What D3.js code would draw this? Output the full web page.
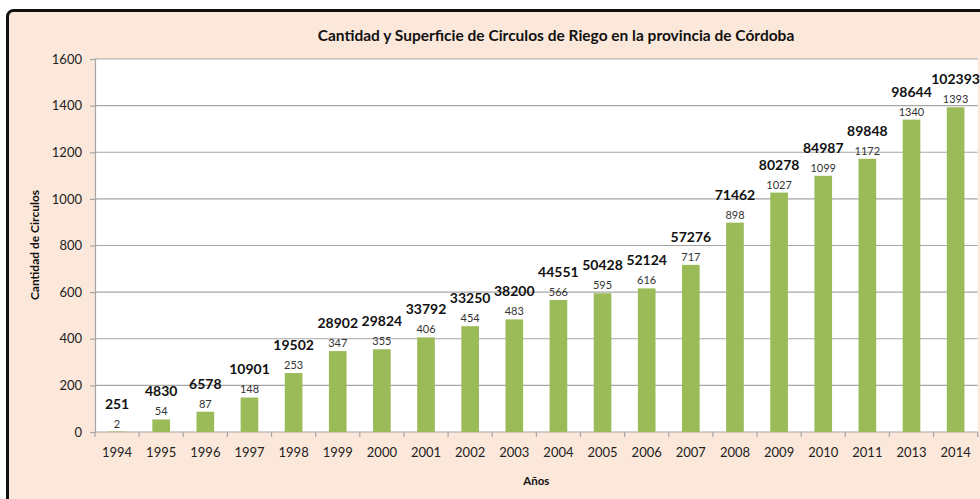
<!DOCTYPE html>
<html>
<head>
<meta charset="utf-8">
<script src="https://cdn.jsdelivr.net/npm/d3@7"></script>
<style>
  body { margin: 0; background: #fff; }
  svg { display: block; font-family: Lato, 'Open Sans', sans-serif; }
</style>
</head>
<body>
<svg id="chart" width="980" height="499"></svg>
<script>
// data
const years = ['1994','1995','1996','1997','1998','1999','2000','2001','2002','2003','2004',
               '2005','2006','2007','2008','2009','2010','2011','2013','2014']
const circulos = [2, 54, 87, 148, 253, 347, 355, 406, 454, 483, 566, 595, 616, 717, 898, 1027, 1099, 1172, 1340, 1393]
const superficie = [251, 4830, 6578, 10901, 19502, 28902, 29824, 33792, 33250, 38200, 44551,
                    50428, 52124, 57276, 71462, 80278, 84987, 89848, 98644, 102393]
const yTicks = [0, 200, 400, 600, 800, 1000, 1200, 1400, 1600]

const width = 980
const height = 499
const svg = d3.select('#chart')

const plot = {left: 95, right: 977.7, top: 59, bottom: 432}

// chart area (peach, black border, cut by the window)
svg.append('rect')
   .attr('x', 7.5)
   .attr('y', 10.5)
   .attr('width', width + 20)
   .attr('height', height + 20)
   .attr('rx', 6)
   .style('fill', '#fce8da')
   .style('stroke', '#111')
   .style('stroke-width', 3)

svg.append('rect')
   .attr('x', plot.left)
   .attr('y', plot.top)
   .attr('width', plot.right - plot.left)
   .attr('height', plot.bottom - plot.top)
   .style('fill', '#fff')

let xScale = d3.scaleBand()
               .domain(years)
               .range([plot.left, plot.right])
               .paddingInner(0.6)
               .paddingOuter(0.3)

let yScale = d3.scaleLinear()
               .domain([0, 1600])
               .range([plot.bottom, plot.top])

// gridlines
svg.append('g')
   .selectAll('line')
   .data(yTicks.filter(d => d > 0))
   .join('line')
   .attr('x1', plot.left)
   .attr('x2', plot.right)
   .attr('y1', d => yScale(d))
   .attr('y2', d => yScale(d))
   .style('stroke', '#a6a6a6')
   .style('stroke-width', 1.2)

// y axis
let yAxis = svg.append('g')
               .attr('transform', `translate(${plot.left},0)`)
               .call(d3.axisLeft(yScale).tickValues(yTicks).tickFormat(d3.format('d')).tickSize(5).tickPadding(8))
yAxis.select('.domain').style('stroke', '#a6a6a6').style('stroke-width', 1.2)
yAxis.selectAll('.tick line').style('stroke', '#a6a6a6').style('stroke-width', 1.2)
yAxis.selectAll('.tick text')
     .style('font-size', '13px')
     .style('fill', '#222')
     .style('font-family', 'Lato, sans-serif')

// x axis: ticks between the categories
let xAxis = svg.append('g')
               .attr('transform', `translate(0,${plot.bottom})`)
               .call(d3.axisBottom(xScale).tickSize(0).tickPadding(16))
xAxis.select('.domain').remove()
xAxis.selectAll('.tick text')
     .style('font-size', '13px')
     .style('fill', '#222')
     .style('font-family', 'Lato, sans-serif')

svg.append('line')
   .attr('x1', plot.left)
   .attr('x2', plot.right)
   .attr('y1', plot.bottom)
   .attr('y2', plot.bottom)
   .style('stroke', '#a6a6a6')
   .style('stroke-width', 1.2)

svg.append('g')
   .selectAll('line')
   .data(d3.range(years.length + 1))
   .join('line')
   .attr('x1', i => plot.left + i * xScale.step())
   .attr('x2', i => plot.left + i * xScale.step())
   .attr('y1', plot.bottom)
   .attr('y2', plot.bottom + 5)
   .style('stroke', '#a6a6a6')
   .style('stroke-width', 1.2)

// bars
svg.append('g')
   .selectAll('rect')
   .data(circulos)
   .join('rect')
   .attr('x', (d, i) => xScale(years[i]))
   .attr('width', xScale.bandwidth())
   .attr('y', d => yScale(d))
   .attr('height', d => plot.bottom - yScale(d))
   .style('fill', '#9bbb59')

// count labels
svg.append('g')
   .selectAll('text')
   .data(circulos)
   .join('text')
   .attr('x', (d, i) => xScale(years[i]) + xScale.bandwidth() / 2)
   .attr('y', d => yScale(d) - 4)
   .attr('text-anchor', 'middle')
   .style('font-size', '11px')
   .style('fill', '#333')
   .text(d => d)

// superficie labels
svg.append('g')
   .selectAll('text')
   .data(superficie)
   .join('text')
   .attr('x', (d, i) => xScale(years[i]) + xScale.bandwidth() / 2)
   .attr('y', (d, i) => yScale(circulos[i]) - 23)
   .attr('text-anchor', 'middle')
   .style('font-size', '14px')
   .style('font-weight', 'bold')
   .style('fill', '#111')
   .text(d => d)

// titles
svg.append('text')
   .attr('x', 556)
   .attr('y', 41)
   .attr('text-anchor', 'middle')
   .style('font-size', '15.5px')
   .style('font-weight', 'bold')
   .style('fill', '#111')
   .text('Cantidad y Superficie de Circulos de Riego en la provincia de Córdoba')

svg.append('text')
   .attr('x', (plot.left + plot.right) / 2)
   .attr('y', 485)
   .attr('text-anchor', 'middle')
   .style('font-size', '11.5px')
   .style('font-weight', 'bold')
   .style('fill', '#111')
   .text('Años')

svg.append('text')
   .attr('transform', `translate(39, 245) rotate(-90)`)
   .attr('text-anchor', 'middle')
   .style('font-size', '12px')
   .style('font-weight', 'bold')
   .style('fill', '#111')
   .text('Cantidad de Circulos')
</script>
</body>
</html>
